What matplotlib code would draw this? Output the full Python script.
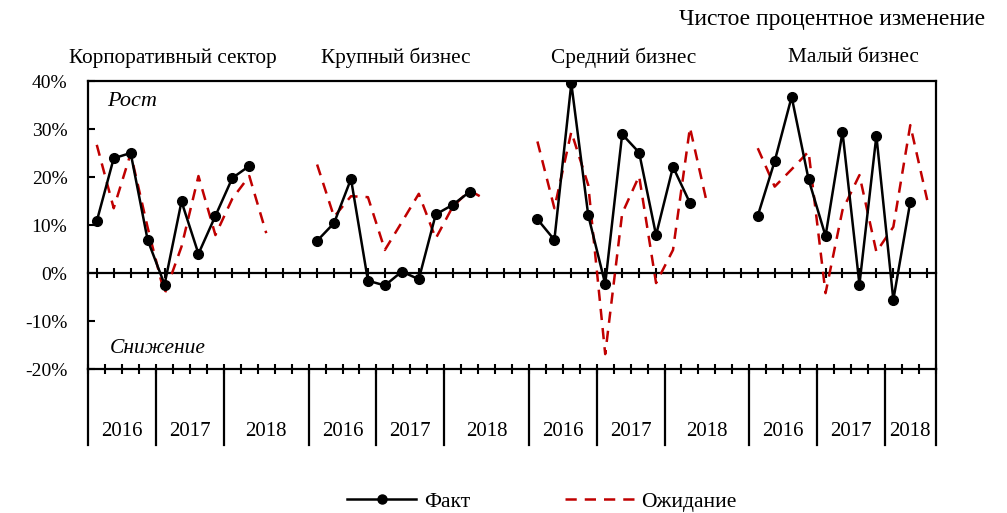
import numpy as np
import matplotlib.pyplot as plt
from matplotlib.lines import Line2D

plt.rcParams['font.family'] = ['Liberation Serif', 'DejaVu Serif']

# --- data (net percentage change) ---
groups = ['Корпоративный сектор', 'Крупный бизнес', 'Средний бизнес', 'Малый бизнес']
years = ['2016', '2017', '2018']

# fact: 2016Q1..2018Q2, expectation: 2016Q1..2018Q3
fact_corp = [10.8, 23.9, 25.0, 6.9, -2.4, 14.9, 4.0, 11.9, 19.8, 22.3]
exp_corp = [26.7, 13.5, 24.9, 9.5, -4.4, 5.5, 20.2, 7.9, 15.5, 20.2, 8.3]

fact_large = [6.7, 10.4, 19.6, -1.6, -2.6, 0.3, -1.3, 12.2, 14.2, 16.9]
exp_large = [22.6, 11.7, 16.0, 15.8, 4.8, 10.6, 16.5, 7.2, 13.8, 17.2, 15.2]

fact_mid = [11.2, 6.9, 39.5, 12.0, -2.3, 28.9, 25.1, 7.9, 22.1, 14.6]
exp_mid = [27.4, 13.5, 29.4, 18.3, -16.9, 12.4, 20.2, -2.1, 4.8, 30.3, 14.6]

fact_small = [11.9, 23.3, 36.7, 19.5, 7.7, 29.4, -2.4, 28.6, -5.6, 14.8]
exp_small = [26.0, 18.0, 21.6, 25.3, -4.2, 13.1, 20.4, 4.4, 9.6, 30.8, 15.2]

facts = [fact_corp, fact_large, fact_mid, fact_small]
exps = [exp_corp, exp_large, exp_mid, exp_small]

# categories per year in each group (2018 carries blank slots as spacer)
year_slots = [[4, 4, 5], [4, 4, 5], [4, 4, 5], [4, 4, 3]]
label_x = [4.47, 17.65, 31.1, 44.66]

red = '#C00000'
fig = plt.figure(figsize=(10.07, 5.13), dpi=100)
ax = fig.add_axes([88.3 / 1007, 1 - 369 / 513, 847.4 / 1007, 288 / 513])

n_total = sum(sum(s) for s in year_slots)
start = 0
bounds = [-0.5]
for g in range(4):
    f = facts[g]
    e = exps[g]
    ax.plot(start + np.arange(len(e)), e, color=red, lw=1.8, ls=(0, (4.5, 3.2)), zorder=3)
    ax.plot(start + np.arange(len(f)), f, color='black', lw=1.8, marker='o', ms=7, zorder=4)
    ax.text(label_x[g], 40 + 23 / 4.8, groups[g], ha='center', va='center',
            fontsize=15.3, clip_on=False)
    pos = start
    for y, k in zip(years, year_slots[g]):
        ax.text(pos - 0.5 + k / 2, -20 - (432 - 369) / 4.8, y, ha='center', va='center', fontsize=15)
        pos += k
        bounds.append(pos - 0.5)
    start = pos

ax.set_xlim(-0.5, n_total - 0.5)
ax.set_ylim(-20, 40)
ax.set_yticks(np.arange(-20, 41, 10))
ax.set_yticklabels([f'{v}%' for v in range(-20, 41, 10)], fontsize=14)
ax.tick_params(axis='y', direction='in', length=5, width=1.5, pad=15)
ax.set_xticks(np.arange(n_total + 1) - 0.5)
ax.set_xticklabels([])
ax.tick_params(axis='x', direction='inout', length=7, width=1.5)
for s in ax.spines.values():
    s.set_linewidth(1.6)

# zero line with ticks at category centres
sec = ax.secondary_xaxis(1 / 3)
sec.set_xticks(np.arange(n_total))
sec.set_xticklabels([])
sec.tick_params(direction='inout', length=7, width=1.5)
sec.spines['bottom'].set_linewidth(1.6)

# long separators below axis
for b in bounds:
    ax.plot([b, b], [-20, -20 - 76 / 4.8], color='black', lw=1.6, clip_on=False, zorder=5)

ax.text(0.6, 35.8, 'Рост', fontsize=16, style='italic', va='center')
ax.text(0.76, -15.8, 'Снижение', fontsize=15.5, style='italic', va='center')

fig.text(985 / 1007, 1 - 20 / 513, 'Чистое процентное изменение', ha='right', va='center', fontsize=17)

handles = [Line2D([], [], color='black', lw=1.8, marker='o', ms=6.5),
           Line2D([], [], color=red, lw=1.8, ls=(0, (4.5, 3.2)))]
fig.legend(handles, ['Факт', 'Ожидание'], loc='center', bbox_to_anchor=(542 / 1007, 1 - 502 / 513),
           ncol=2, frameon=False, fontsize=15.5, handlelength=3.2, handletextpad=0.35,
           columnspacing=4.4)

fig.savefig('out.png', dpi=100)
